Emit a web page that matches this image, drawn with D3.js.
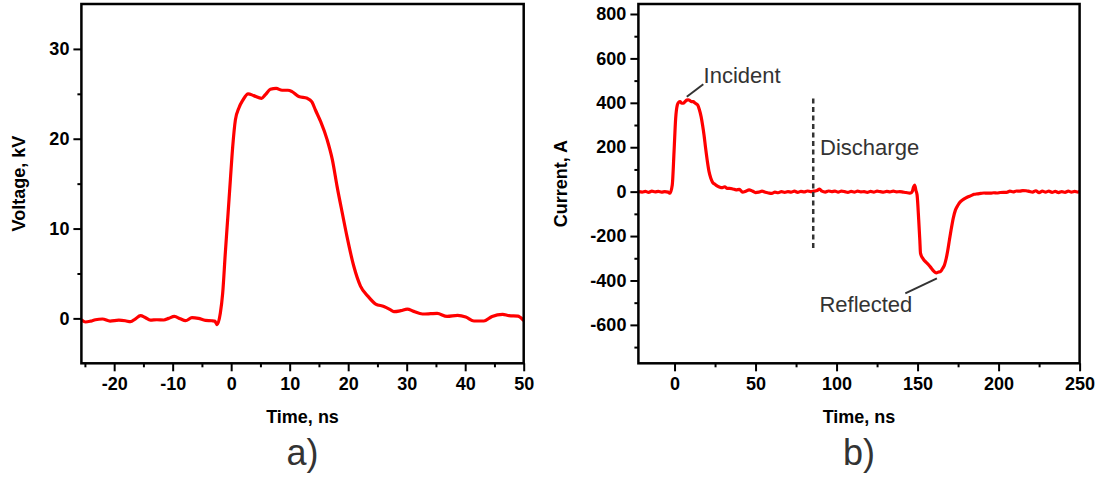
<!DOCTYPE html>
<html><head><meta charset="utf-8">
<script src="https://cdnjs.cloudflare.com/ajax/libs/d3/7.8.5/d3.min.js"></script>
<style>body{margin:0;background:#fff}svg{display:block}</style>
</head><body><svg id="c" width="1100" height="477"></svg>
<script>
// Panel a) Voltage vs time
const voltTime = [-25.6,-24.9,-24,-23.2,-22,-20.7,-19.2,-18.1,-17.2,-16.4,-15.5,-14.7,-13.8,-12.7,-11.5,-10.7,-9.7,-8.7,-7.8,-6.7,-5.6,-4.4,-3.3,-2.8,-2.4,-1.85,-1.45,-1.0,-0.53,-0.14,0.26,0.72,1.3,2.0,2.9,3.85,5.2,5.85,6.7,7.7,8.7,9.7,10.4,11.55,13.0,13.8,14.4,15.3,16.4,17.3,18.1,19.0,19.8,20.96,22.1,23.4,24.7,26.1,27.2,27.8,29.0,30.1,31.2,32.7,34.1,35.2,36.9,38.7,40.1,41.5,43.2,44.6,46.4,47.5,49.0,50];
const voltValue = [-0.15,-0.4,-0.3,-0.15,-0.07,-0.3,-0.2,-0.26,-0.37,-0.07,0.3,0.1,-0.2,-0.15,-0.18,0,0.22,-0.05,-0.26,0.08,0,-0.22,-0.26,-0.3,-0.7,0.6,2.8,7.3,11.7,15.4,19.1,22.1,23.4,24.3,25.0,24.8,24.5,24.9,25.5,25.6,25.4,25.4,25.25,24.7,24.5,24.1,23.2,21.9,19.9,17.65,14.7,11.7,9.1,5.8,3.6,2.45,1.6,1.33,0.97,0.75,0.86,1.04,0.78,0.49,0.52,0.55,0.22,0.33,0.15,-0.29,-0.29,0.22,0.45,0.3,0.25,-0.25];
const voltXTicks = [-20,-10,0,10,20,30,40,50];
const voltYTicks = [0,10,20,30];

// Panel b) Current vs time
const curTime = [-22,-20,-18,-16,-14,-12,-10,-8,-6,-4,-2.8,-1.4,-0.3,0.7,1.7,2.5,3.4,4.5,5.4,6.5,7.5,8.5,9.5,10.5,11.6,12.5,13.5,14.3,15.3,16.4,17.3,18.2,19.2,20.3,21.3,22.4,23.5,25,26.5,28,29.5,31,32.5,34,36,38,40,42,44,46,48,50,52,54,56,58,60,62,64,66,68,70,72,74,76,78,80,82,84,86,88,89.5,91,93,95,97,99,101,103,105,107,109,111,113,115,117,119,121,123,125,127,129,131,133,135,137,139,141,143,145,146.5,147.5,148.2,149,149.7,150.7,151.4,151.8,153,153.8,155.3,156.9,158.5,160,161.5,163,164.1,165.5,166.6,167.7,168.7,169.7,170.7,172,173.4,175,176.5,178.5,180.6,183,185,186.8,189,191,193,195,197,199,201,203,205,207,209,211,213,215,217,219,221,223,225,227,229,231,233,235,237,239,241,243,245,247,249,250];
const curValue = [0,-2,1,-3,2,-1,1,-2,0,-2,-7,30,180,330,390,402,405,398,398,405,412,413,410,405,405,400,395,390,370,338,300,255,195,135,90,60,42,33,25,20,18,22,15,15,12,8,10,-2,2,8,3,-4,-2,2,-3,-6,-8,-2,-5,0,-3,0,-2,2,-3,1,-1,3,0,2,5,12,2,-2,3,0,2,-2,2,0,-3,1,-2,2,-1,0,-3,1,-2,2,0,-2,1,-1,2,-1,0,-2,-4,-7,-3,20,30,5,-15,-127,-220,-277,-298,-307,-318,-330,-345,-358,-366,-362,-360,-345,-330,-300,-262,-215,-172,-120,-82,-60,-45,-34,-25,-18,-12,-10,-8,-6,-7,-7,-5,-6,-4,-3,-3,2,-1,3,2,5,4,1,-2,4,-4,2,-2,2,-3,1,-4,0,-3,2,-2,1,-2,1];
const curXTicks = [0,50,100,150,200,250];
const curYTicks = [-600,-400,-200,0,200,400,600,800];

const annoText = ["Incident","Discharge","Reflected"];
const dischargeTime = 85.6;
const dischargeRange = [420,-270];

const svg = d3.select("#c");
const AX = "#000", ANN = "#333";
const fmt = d => String(d);

function panel(o){
  const x = d3.scaleLinear().domain(o.xd).range([o.x0,o.x1]);
  const y = d3.scaleLinear().domain(o.yd).range([o.y1,o.y0]);
  const g = svg.append("g");
  // minor ticks
  g.append("g").attr("transform",`translate(0,${o.y1})`)
    .call(d3.axisBottom(x).tickValues(o.xMinor).tickSize(4).tickFormat(""))
    .call(s=>{s.select(".domain").remove();s.selectAll("line").attr("stroke",AX).attr("stroke-width",2);});
  g.append("g").attr("transform",`translate(${o.x0},0)`)
    .call(d3.axisLeft(y).tickValues(o.yMinor).tickSize(4).tickFormat(""))
    .call(s=>{s.select(".domain").remove();s.selectAll("line").attr("stroke",AX).attr("stroke-width",2);});
  // major ticks
  const xa = g.append("g").attr("transform",`translate(0,${o.y1})`)
    .call(d3.axisBottom(x).tickValues(o.xTicks).tickSize(8).tickPadding(6).tickFormat(fmt));
  const ya = g.append("g").attr("transform",`translate(${o.x0},0)`)
    .call(d3.axisLeft(y).tickValues(o.yTicks).tickSize(8).tickPadding(4).tickFormat(fmt));
  [xa,ya].forEach(a=>{
    a.select(".domain").remove();
    a.selectAll("line").attr("stroke",AX).attr("stroke-width",2);
    a.selectAll("text").attr("fill",AX).style("font-family","Liberation Sans, Arial, sans-serif")
      .style("font-size","18px").style("font-weight","bold");
  });
  const cp = "clip"+o.id;
  svg.append("clipPath").attr("id",cp).append("rect")
    .attr("x",o.x0).attr("y",o.y0).attr("width",o.x1-o.x0).attr("height",o.y1-o.y0);
  g.append("path").datum(d3.range(o.t.length))
    .attr("clip-path",`url(#${cp})`)
    .attr("fill","none").attr("stroke","#ff0000").attr("stroke-width",3.2).attr("stroke-linejoin","round")
    .attr("d",d3.line().x(i=>x(o.t[i])).y(i=>y(o.v[i])).curve(d3.curveMonotoneX));
  g.append("rect").attr("x",o.x0).attr("y",o.y0).attr("width",o.x1-o.x0).attr("height",o.y1-o.y0)
    .attr("fill","none").attr("stroke",AX).attr("stroke-width",2.5);
  const f = "Liberation Sans, Arial, sans-serif";
  g.append("text").attr("x",(o.x0+o.x1)/2).attr("y",422.5).attr("text-anchor","middle")
    .style("font-family",f).style("font-size","18px").style("font-weight","bold").text("Time, ns");
  g.append("text").attr("transform",`translate(${o.ylx},${(o.y0+o.y1)/2}) rotate(-90)`).attr("text-anchor","middle")
    .style("font-family",f).style("font-size","18px").style("font-weight","bold").text(o.ylab);
  g.append("text").attr("x",(o.x0+o.x1)/2).attr("y",465).attr("text-anchor","middle").attr("fill",ANN)
    .style("font-family",f).style("font-size","36px").text(o.letter);
  return {x,y,g};
}

panel({id:"a",xd:[-25.6,50],yd:[-5,35],x0:81.4,x1:523.7,y0:4,y1:363.3,
  xTicks:voltXTicks,yTicks:voltYTicks,xMinor:[-25,-15,-5,5,15,25,35,45],yMinor:[5,15,25],
  t:voltTime,v:voltValue,ylab:"Voltage, kV",ylx:24.5,letter:"a)"});

const b = panel({id:"b",xd:[-22.3,250],yd:[-773,845],x0:638.4,x1:1079.6,y0:4,y1:363.3,
  xTicks:curXTicks,yTicks:curYTicks,xMinor:[25,75,125,175,225],yMinor:[-700,-500,-300,-100,100,300,500,700],
  t:curTime,v:curValue,ylab:"Current, A",ylx:566.5,letter:"b)"});

const f = "Liberation Sans, Arial, sans-serif";
// Discharge dashed line
b.g.append("line").attr("x1",b.x(dischargeTime)).attr("x2",b.x(dischargeTime))
  .attr("y1",b.y(dischargeRange[0])).attr("y2",b.y(dischargeRange[1]))
  .attr("stroke",ANN).attr("stroke-width",2.5).attr("stroke-dasharray","5,3.5");
// annotations
const ann = [
  {t:annoText[0],tx:703.6,ty:82.7,l:[686.8,96.7,703.3,84.3]},
  {t:annoText[1],tx:820.1,ty:155.3,l:null},
  {t:annoText[2],tx:819.4,ty:312.3,l:[905.3,293.3,936.9,278.3]}
];
ann.forEach(a=>{
  b.g.append("text").attr("x",a.tx).attr("y",a.ty).attr("fill",ANN)
    .style("font-family",f).style("font-size","22px").text(a.t);
  if(a.l) b.g.append("line").attr("x1",a.l[0]).attr("y1",a.l[1]).attr("x2",a.l[2]).attr("y2",a.l[3])
    .attr("stroke",ANN).attr("stroke-width",2);
});
</script></body></html>
